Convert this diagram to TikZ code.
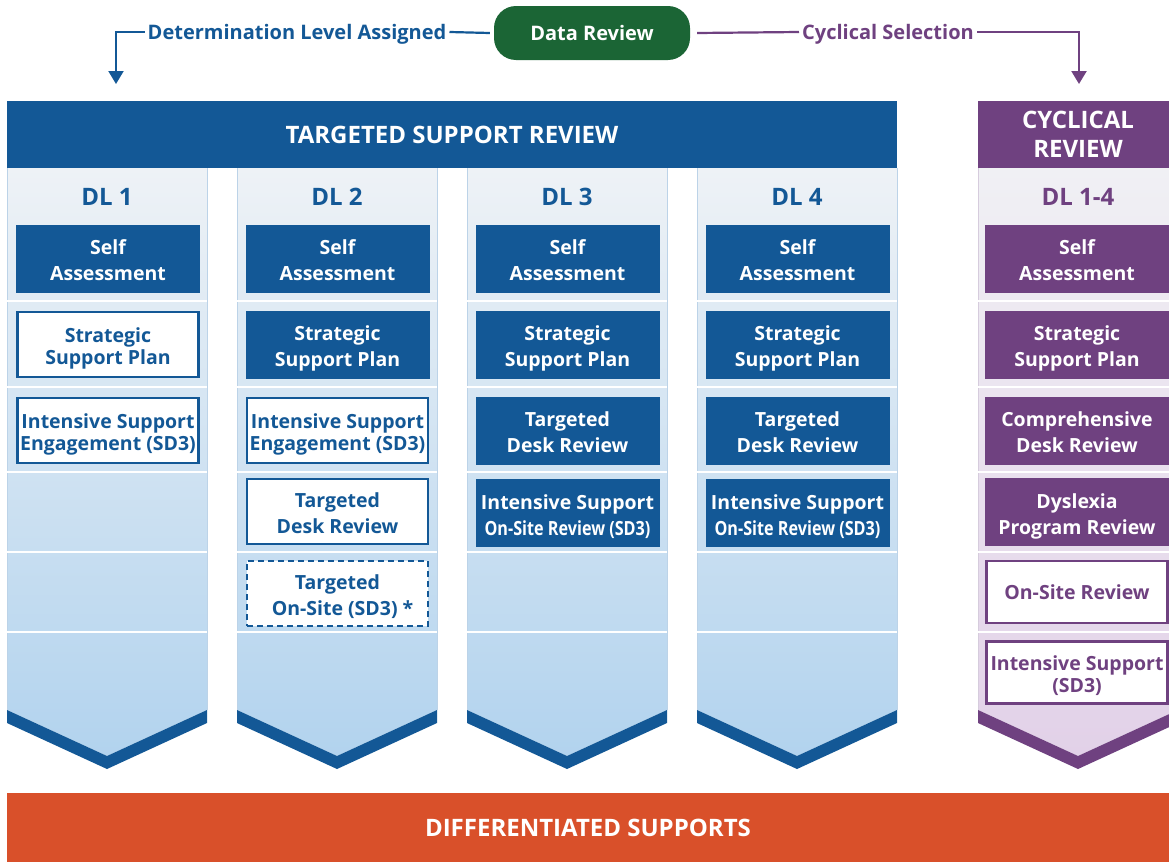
\documentclass[tikz,border=0pt]{standalone}
\usepackage{fontspec}
\usepackage{graphicx}
\setmainfont{Open Sans}
\usetikzlibrary{arrows.meta}
\definecolor{tblue}{HTML}{135896}
\definecolor{tpurple}{HTML}{6F4180}
\definecolor{tgreen}{HTML}{1B6535}
\definecolor{torange}{HTML}{D9502A}
\definecolor{colTop}{HTML}{EEF2F6}
\definecolor{colBot}{HTML}{B2D3EE}
\definecolor{cycTop}{HTML}{F0F0F4}
\definecolor{cycBot}{HTML}{E2D1E8}
\definecolor{colEdge}{HTML}{BCD3E8}
\definecolor{cycEdge}{HTML}{D6CCDD}
\tikzset{
  bxfont/.style={font=\fontsize{19.5}{26}\selectfont\bfseries},
  bigfont/.style={font=\fontsize{24}{29}\selectfont\bfseries},
  boxbase/.style={bxfont, align=center, inner sep=0pt, minimum width=184pt, minimum height=68pt, text height=44pt, text depth=0pt},
  tight/.style={font=\fontsize{19.5}{22}\selectfont\bfseries, text height=39pt},
  oneline/.style={text height=14pt},
  bfill/.style={boxbase, fill=tblue, text=white},
  bline/.style={boxbase, fill=white, draw=tblue, line width=2.5pt, text=tblue, minimum width=181pt, minimum height=65pt},
  bdash/.style={bline, dashed, dash pattern=on 6pt off 4pt},
  pfill/.style={boxbase, fill=tpurple, text=white},
  pline/.style={boxbase, fill=white, draw=tpurple, line width=2.5pt, text=tpurple, minimum width=181pt, minimum height=62pt},
  dllabel/.style={bigfont, text=tblue},
  toplabel/.style={font=\fontsize{20}{24}\selectfont\bfseries, inner sep=3pt, text height=14pt, text depth=0pt},
  conn/.style={line width=2.2pt},
  tip/.style={-{Triangle[width=15pt,length=13pt]}},
}
\begin{document}
\begin{tikzpicture}[x=1pt,y=-1pt]
\useasboundingbox[fill=white] (0,0) rectangle (1169,862);

% blue columns
\foreach \cx in {107,337,567,797}{
  \shade[top color=colTop, bottom color=colBot]
    ({\cx-100},168) -- ({\cx+100},168) -- ({\cx+100},710) -- (\cx,756) -- ({\cx-100},710) -- cycle;
  \draw[colEdge, line width=0.8pt] ({\cx-100},168) -- ({\cx-100},710);
  \draw[colEdge, line width=0.8pt] ({\cx+100},168) -- ({\cx+100},710);
  \foreach \ry in {301,387,472,552,632}
    \draw[white, line width=2.5pt] ({\cx-100},\ry) -- ({\cx+100},\ry);
  \fill[tblue] ({\cx-100},710) -- (\cx,756) -- ({\cx+100},710) -- ({\cx+100},723) -- (\cx,769) -- ({\cx-100},723) -- cycle;
}
% cyclical column
\shade[top color=cycTop, bottom color=cycBot]
  (978,168) -- (1178,168) -- (1178,710) -- (1078,756) -- (978,710) -- cycle;
\draw[cycEdge, line width=0.8pt] (978,168) -- (978,710);
\foreach \ry in {301,387,472,552,632}
  \draw[white, line width=2.5pt] (978,\ry) -- (1178,\ry);
\fill[tpurple] (978,710) -- (1078,756) -- (1178,710) -- (1178,723) -- (1078,769) -- (978,723) -- cycle;

% headers
\node[bigfont, fill=tblue, text=white, minimum width=890pt, minimum height=67pt, inner sep=0pt] (tsr) at (452,134.5) {TARGETED SUPPORT REVIEW};
\node[bigfont, fill=tpurple, text=white, minimum width=200pt, minimum height=67pt, inner sep=0pt, align=center] (cyc) at (1078,134.5) {CYCLICAL\\REVIEW};
\node[bigfont, fill=torange, text=white, minimum width=1162pt, minimum height=69pt, inner sep=0pt] (ds) at (588,827.5) {DIFFERENTIATED SUPPORTS};

% DL labels
\node[dllabel] (dl1) at (107,197) {DL 1};
\node[dllabel] (dl2) at (337,197) {DL 2};
\node[dllabel] (dl3) at (567,197) {DL 3};
\node[dllabel] (dl4) at (797,197) {DL 4};
\node[bigfont, text=tpurple] (dlc) at (1078,197) {DL 1-4};

% DL1
\node[bfill] (a1) at (108,258.5) {Self\\Assessment};
\node[bline, tight] (a2) at (108,344.5) {Strategic\\Support Plan};
\node[bline, tight] (a3) at (108,430.5) {Intensive Support\\Engagement (SD3)};
% DL2
\node[bfill] (b1) at (337.5,258.5) {Self\\Assessment};
\node[bfill] (b2) at (337.5,344.5) {Strategic\\Support Plan};
\node[bline, tight] (b3) at (337.5,430.5) {Intensive Support\\Engagement (SD3)};
\node[bline] (b4) at (337.5,511.5) {Targeted\\Desk Review};
\node[bdash] (b5) at (337.5,593.5) {Targeted\\\ \ On-Site (SD3) *};
% DL3
\node[bfill] (c1) at (567.5,258.5) {Self\\Assessment};
\node[bfill] (c2) at (567.5,344.5) {Strategic\\Support Plan};
\node[bfill] (c3) at (567.5,430.5) {Targeted\\Desk Review};
\node[bfill] (c4) at (567.5,513) {Intensive Support\\\scalebox{0.83}[1]{On-Site Review (SD3)}};
% DL4
\node[bfill] (d1) at (797.5,258.5) {Self\\Assessment};
\node[bfill] (d2) at (797.5,344.5) {Strategic\\Support Plan};
\node[bfill] (d3) at (797.5,430.5) {Targeted\\Desk Review};
\node[bfill] (d4) at (797.5,513) {Intensive Support\\\scalebox{0.83}[1]{On-Site Review (SD3)}};
% Cyclical
\node[pfill] (e1) at (1077,258.5) {Self\\Assessment};
\node[pfill] (e2) at (1077,344.5) {Strategic\\Support Plan};
\node[pfill] (e3) at (1077,430.5) {Comprehensive\\Desk Review};
\node[pfill] (e4) at (1077,512) {Dyslexia\\Program Review};
\node[pline, oneline] (e5) at (1077,592) {On-Site Review};
\node[pline, tight] (e6) at (1077,672.5) {Intensive Support\\(SD3)};

% top flow
\node[toplabel, fill=tgreen, text=white, minimum width=196pt, minimum height=54pt, rounded corners=22pt, inner sep=0pt] (dr) at (592,33) {Data Review};
\node[toplabel, text=tblue] (dla) at (297,32) {Determination Level Assigned};
\node[toplabel, text=tpurple] (cs) at (888,32) {Cyclical Selection};
\coordinate (dlaT) at (116,84);
\coordinate (csT) at (1079,84);
\draw[conn, tblue] (dla.east) -- ([xshift=-4pt]dr.west);
\draw[conn, tblue, tip] (dla.west) -| (dlaT);
\draw[conn, tpurple] ([xshift=7pt]dr.east) -- (cs.west);
\draw[conn, tpurple, tip] (cs.east) -| (csT);
\end{tikzpicture}
\end{document}
